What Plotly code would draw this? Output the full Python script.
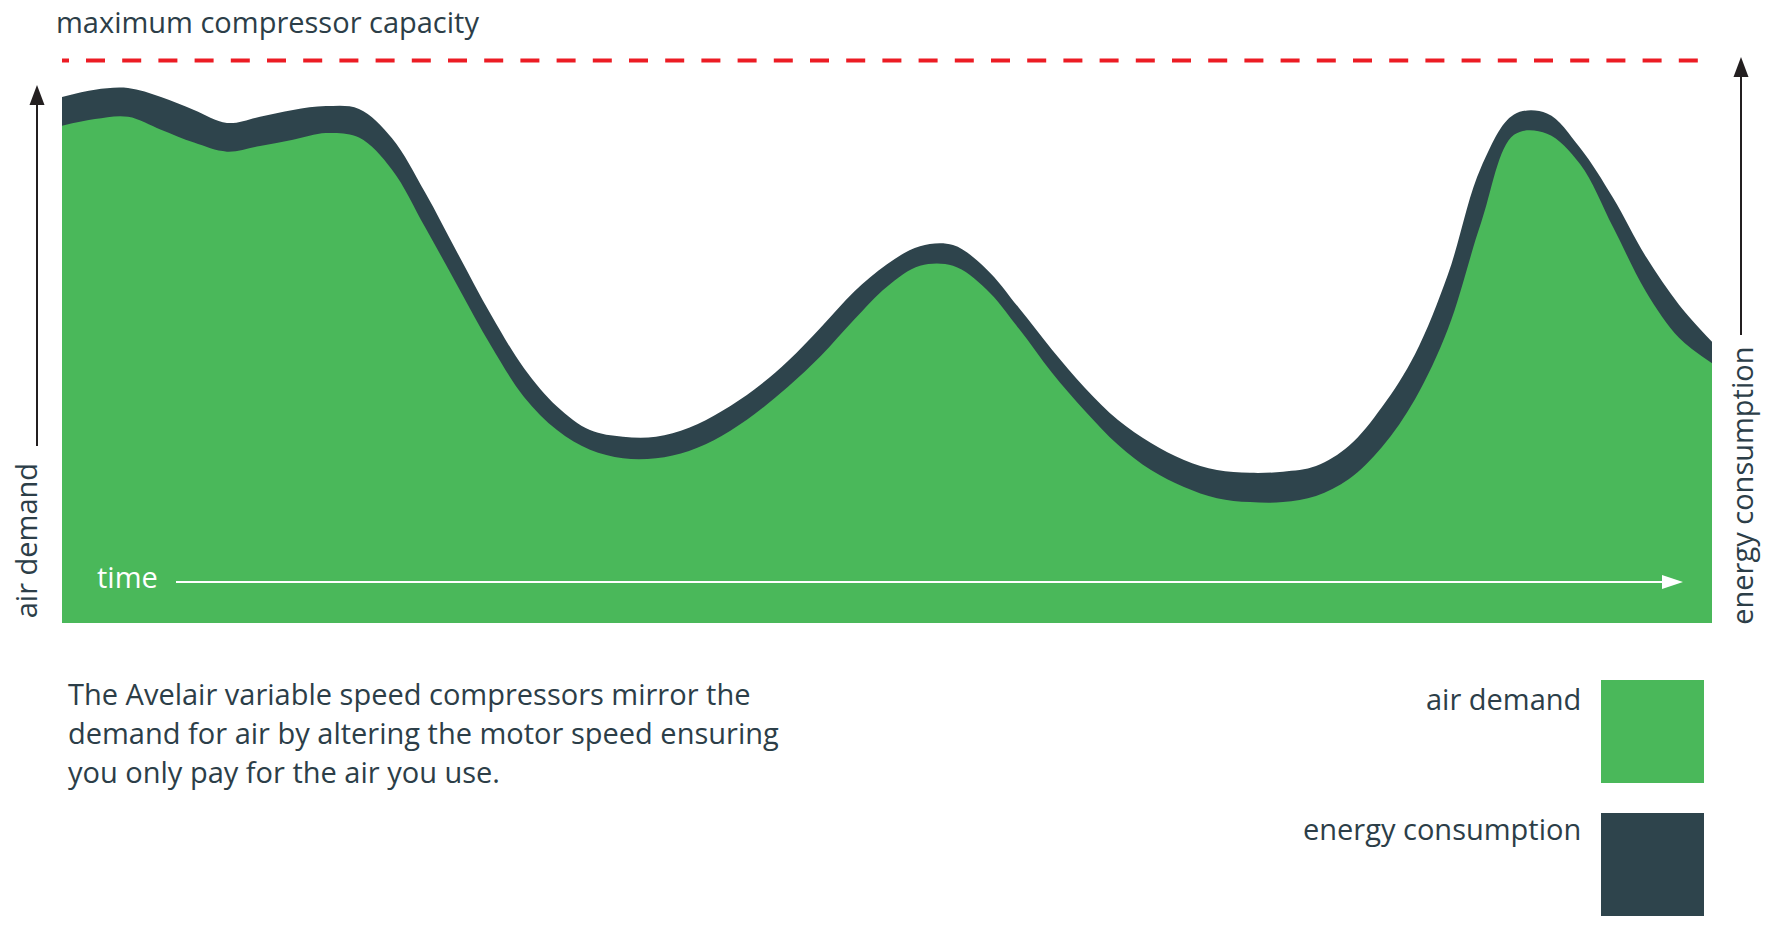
import plotly.graph_objects as go

# ---- data ----
# time on a 0..100 scale, values in % of maximum compressor capacity
time = [0, 2, 4, 6, 8, 10, 12, 14, 16, 18, 20, 22, 24, 26, 28, 30, 32, 34, 36, 38, 40, 42, 44, 46, 48,
        50, 52, 54, 56, 58, 60, 62, 64, 66, 68, 70, 72, 74, 76, 78, 80, 82, 84, 86, 88, 90, 92, 94, 96,
        98, 100]
air_demand = [88.4, 89.6, 90.0, 87.7, 85.4, 83.8, 84.8, 85.9, 87.1, 86.3, 80.6, 70.4, 59.8, 49.3, 40.2,
              34.3, 30.8, 29.3, 29.3, 30.6, 33.3, 37.2, 42.0, 47.5, 53.9, 59.8, 63.5, 63.5, 59.4, 52.3,
              44.5, 37.7, 31.7, 27.2, 24.2, 22.2, 21.5, 21.5, 22.6, 25.6, 31.3, 39.8, 52.3, 71.1, 86.8,
              87.0, 81.6, 70.4, 58.9, 50.7, 46.2]
energy_consumption = [93.5, 94.8, 95.1, 93.5, 91.2, 88.9, 90.0, 91.2, 91.9, 91.4, 86.2, 76.6, 65.6, 54.8, 45.3,
                      38.5, 34.3, 33.1, 33.1, 34.7, 37.7, 41.6, 46.6, 52.6, 58.9, 63.8, 67.0, 67.2, 63.0, 56.0,
                      48.6, 41.8, 36.1, 32.0, 29.0, 27.2, 26.7, 26.9, 27.9, 31.5, 38.4, 47.8, 62.0, 81.0, 90.4,
                      90.6, 84.5, 75.6, 65.1, 56.6, 50.0]

max_capacity = 100

title_text = "maximum compressor capacity"
left_label = "air demand"
right_label = "energy consumption"
time_label = "time"
caption_lines = ["The Avelair variable speed compressors mirror the",
                 "demand for air by altering the motor speed ensuring",
                 "you only pay for the air you use."]
legend_labels = ["air demand", "energy consumption"]

# ---- style / layout ----
W, H = 1780, 944
L, R, T, B = 62, 68, 38, 321
PW, PH = W - L - R, H - T - B
X0, Y0 = L, T + PH          # page position of the plot's bottom-left corner
GREEN = "#4ab85a"
DARK = "#2e444c"
RED = "#ec1c24"
TEXT = "#2c3e48"
INK = "#231f20"
FONT = "Open Sans"
FS = 29


def px(x):
    return (x - X0) / PW


def py(y):
    return (Y0 - y) / PH


def mid(baseline, size=FS):
    return baseline - 0.388 * size


fig = go.Figure()
fig.add_trace(go.Scatter(x=time, y=energy_consumption, mode="lines", name=legend_labels[1],
                         line=dict(color=DARK, width=0, shape="spline", smoothing=1.0),
                         fill="tozeroy", fillcolor=DARK, hoverinfo="skip", showlegend=False))
fig.add_trace(go.Scatter(x=time, y=air_demand, mode="lines", name=legend_labels[0],
                         line=dict(color=GREEN, width=0, shape="spline", smoothing=1.0),
                         fill="tozeroy", fillcolor=GREEN, hoverinfo="skip", showlegend=False))

shapes = []
# maximum capacity dashed line
dash = "7px,17px," + ",".join(["19px,17.2px"] * 46)
shapes.append(dict(type="line", xref="paper", yref="y", x0=px(62), x1=px(1700),
                   y0=max_capacity, y1=max_capacity, line=dict(color=RED, width=4, dash=dash)))

# left axis arrow
shapes.append(dict(type="line", xref="paper", yref="paper", x0=px(37), x1=px(37),
                   y0=py(446), y1=py(103), line=dict(color=INK, width=2)))
shapes.append(dict(type="path", xref="paper", yref="paper",
                   path=f"M {px(29.5)},{py(105)} L {px(37)},{py(85)} L {px(44.5)},{py(105)} Z",
                   fillcolor=INK, line=dict(width=0)))
# right axis arrow
shapes.append(dict(type="line", xref="paper", yref="paper", x0=px(1741), x1=px(1741),
                   y0=py(335), y1=py(75), line=dict(color=INK, width=2)))
shapes.append(dict(type="path", xref="paper", yref="paper",
                   path=f"M {px(1733.5)},{py(77)} L {px(1741)},{py(57)} L {px(1748.5)},{py(77)} Z",
                   fillcolor=INK, line=dict(width=0)))
# time arrow
shapes.append(dict(type="line", xref="paper", yref="paper", x0=px(176), x1=px(1664),
                   y0=py(582), y1=py(582), line=dict(color="white", width=2)))
shapes.append(dict(type="path", xref="paper", yref="paper",
                   path=f"M {px(1662)},{py(575)} L {px(1683)},{py(582)} L {px(1662)},{py(589)} Z",
                   fillcolor="white", line=dict(width=0)))
# legend swatches
shapes.append(dict(type="rect", xref="paper", yref="paper", x0=px(1601), x1=px(1704),
                   y0=py(783), y1=py(680), fillcolor=GREEN, line=dict(width=0)))
shapes.append(dict(type="rect", xref="paper", yref="paper", x0=px(1601), x1=px(1704),
                   y0=py(916), y1=py(813), fillcolor=DARK, line=dict(width=0)))

font = dict(family=FONT, size=FS, color=TEXT)
ann = []
ann.append(dict(text=title_text, x=px(55), y=py(mid(33)), xanchor="left", yanchor="middle"))
ann.append(dict(text=time_label, x=px(96), y=py(mid(588)), xanchor="left", yanchor="middle",
                font=dict(family=FONT, size=FS, color="white")))
for i, line in enumerate(caption_lines):
    ann.append(dict(text=line, x=px(67), y=py(mid([705, 744, 783][i])), xanchor="left", yanchor="middle"))
ann.append(dict(text=legend_labels[0], x=px(1582), y=py(mid(710)), xanchor="right", yanchor="middle"))
ann.append(dict(text=legend_labels[1], x=px(1582), y=py(mid(840)), xanchor="right", yanchor="middle"))
ann.append(dict(text=left_label, x=px(37 - 0.388 * FS), y=py(540.5), textangle=-90,
                xanchor="center", yanchor="middle"))
ann.append(dict(text=right_label, x=px(1753 - 0.388 * FS), y=py(486), textangle=-90,
                xanchor="center", yanchor="middle"))
for a in ann:
    a.setdefault("font", font)
    a.update(xref="paper", yref="paper", showarrow=False, borderpad=0)

fig.update_layout(
    width=W, height=H,
    margin=dict(l=L, r=R, t=T, b=B, pad=0),
    paper_bgcolor="white", plot_bgcolor="white",
    xaxis=dict(range=[0, 100], visible=False, fixedrange=True),
    yaxis=dict(range=[0, 104], visible=False, fixedrange=True),
    shapes=shapes, annotations=ann,
    hovermode=False, showlegend=False,
    font=dict(family=FONT, color=TEXT),
)

fig.write_html(
    "out.html",
    config={"displayModeBar": False, "staticPlot": True},
    post_script="document.body.style.margin='0px';document.body.style.overflow='hidden';",
)
